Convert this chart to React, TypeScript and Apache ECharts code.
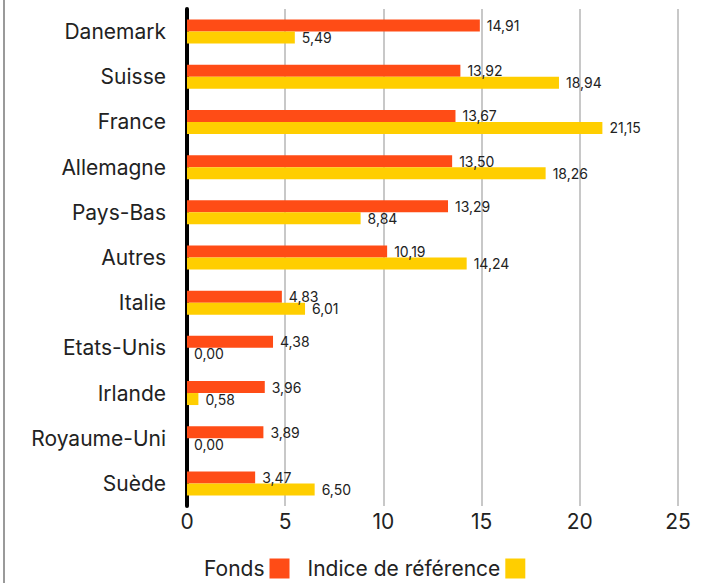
import React, { useEffect, useRef } from "react";
import * as echarts from "echarts";

const categories = [
  "Danemark",
  "Suisse",
  "France",
  "Allemagne",
  "Pays-Bas",
  "Autres",
  "Italie",
  "Etats-Unis",
  "Irlande",
  "Royaume-Uni",
  "Suède",
];
const fondsValues = [14.91, 13.92, 13.67, 13.5, 13.29, 10.19, 4.83, 4.38, 3.96, 3.89, 3.47];
const indiceValues = [5.49, 18.94, 21.15, 18.26, 8.84, 14.24, 6.01, 0.0, 0.58, 0.0, 6.5];
const seriesNames = ["Fonds", "Indice de référence"];

const FONT = "Inter, 'Liberation Sans', sans-serif";
const RED = "#FF4C16";
const YELLOW = "#FFCE00";

const fmt = (p: any) => Number(p.value).toFixed(2).replace(".", ",");

export default function App() {
  const ref = useRef<HTMLDivElement>(null);
  useEffect(() => {
    if (!ref.current) return;
    const chart = echarts.init(ref.current, undefined, { renderer: "svg" });
    const labelCfg = {
      show: true,
      position: "right" as const,
      distance: 7,
      formatter: fmt,
      color: "#222",
      fontSize: 14,
      fontFamily: FONT,
    };
    chart.setOption({
      animation: false,
      textStyle: { fontFamily: FONT },
      graphic: [
        {
          type: "rect",
          shape: { x: 3, y: 0, width: 2, height: 583 },
          style: { fill: "#9a9a9a" },
          silent: true,
        },
      ],
      grid: { left: 187, right: 25, top: 9, bottom: 77, containLabel: false },
      legend: {
        left: 199,
        top: 553,
        align: "right",
        itemWidth: 20,
        itemHeight: 20,
        itemGap: 18,
        icon: "rect",
        data: seriesNames,
        textStyle: { fontSize: 21, color: "#222", fontFamily: FONT },
      },
      xAxis: {
        type: "value",
        min: 0,
        max: 25,
        interval: 5,
        axisLine: { show: false },
        axisTick: { show: false },
        axisLabel: { fontSize: 21, color: "#222", margin: 5, fontFamily: FONT },
        splitLine: { show: true, lineStyle: { color: "#c8c8c8", width: 2 } },
      },
      yAxis: {
        type: "category",
        inverse: true,
        data: categories,
        axisLine: { show: true, lineStyle: { color: "#000", width: 4 } },
        axisTick: { show: false },
        axisLabel: { fontSize: 21, color: "#222", margin: 21, fontFamily: FONT },
      },
      series: [
        {
          name: seriesNames[0],
          type: "bar",
          data: fondsValues,
          barWidth: 12,
          barGap: "0%",
          itemStyle: { color: RED },
          label: labelCfg,
        },
        {
          name: seriesNames[1],
          type: "bar",
          data: indiceValues,
          barWidth: 12,
          barGap: "0%",
          itemStyle: { color: YELLOW },
          label: labelCfg,
        },
      ],
    });
    return () => chart.dispose();
  }, []);
  return (
    <div
      ref={ref}
      style={{ position: "fixed", left: 0, top: 0, width: 703, height: 583, background: "#fff" }}
    />
  );
}
